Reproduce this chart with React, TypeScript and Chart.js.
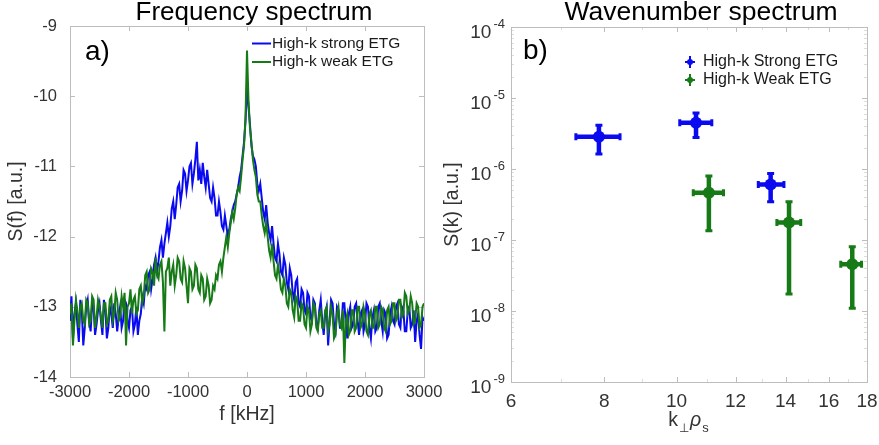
import React, { useEffect, useRef } from 'react';
import { Chart, registerables } from 'chart.js';

Chart.register(...registerables);

// ---------------- data: panel a) frequency spectrum ----------------
const FREQ_KHZ = [
  -3000, -2975, -2950, -2925, -2900, -2875, -2850, -2825, -2800, -2775,
  -2750, -2725, -2700, -2675, -2650, -2625, -2600, -2575, -2550, -2525,
  -2500, -2475, -2450, -2425, -2400, -2375, -2350, -2325, -2300, -2275,
  -2250, -2225, -2200, -2175, -2150, -2125, -2100, -2075, -2050, -2025,
  -2000, -1975, -1950, -1925, -1900, -1875, -1850, -1825, -1800, -1775,
  -1750, -1725, -1700, -1675, -1650, -1625, -1600, -1575, -1550, -1525,
  -1500, -1475, -1450, -1425, -1400, -1375, -1350, -1325, -1300, -1275,
  -1250, -1225, -1200, -1175, -1150, -1125, -1100, -1075, -1050, -1025,
  -1000, -975, -950, -925, -900, -875, -850, -825, -800, -775,
  -750, -725, -700, -675, -650, -625, -600, -575, -550, -525,
  -500, -475, -450, -425, -400, -375, -350, -325, -300, -275,
  -250, -225, -200, -175, -150, -125, -100, -75, -50, -25,
  0, 25, 50, 75, 100, 125, 150, 175, 200, 225,
  250, 275, 300, 325, 350, 375, 400, 425, 450, 475,
  500, 525, 550, 575, 600, 625, 650, 675, 700, 725,
  750, 775, 800, 825, 850, 875, 900, 925, 950, 975,
  1000, 1025, 1050, 1075, 1100, 1125, 1150, 1175, 1200, 1225,
  1250, 1275, 1300, 1325, 1350, 1375, 1400, 1425, 1450, 1475,
  1500, 1525, 1550, 1575, 1600, 1625, 1650, 1675, 1700, 1725,
  1750, 1775, 1800, 1825, 1850, 1875, 1900, 1925, 1950, 1975,
  2000, 2025, 2050, 2075, 2100, 2125, 2150, 2175, 2200, 2225,
  2250, 2275, 2300, 2325, 2350, 2375, 2400, 2425, 2450, 2475,
  2500, 2525, 2550, 2575, 2600, 2625, 2650, 2675, 2700, 2725,
  2750, 2775, 2800, 2825, 2850, 2875, 2900, 2925, 2950, 2975,
  3000,
];

const S_STRONG = [
  -13.2, -12.85, -13.45, -13.1, -12.95, -13.25, -13.5, -12.9, -13.05, -13.55,
  -13.3, -13.0, -12.9, -13.2, -13.35, -12.95, -13.0, -13.4, -13.25, -13.05,
  -12.95, -13.2, -13.4, -12.9, -13.05, -13.45, -13.3, -13.0, -13.1, -13.3,
  -12.95, -13.1, -13.35, -13.15, -13.0, -13.3, -13.2, -12.9, -12.95, -13.2,
  -13.3, -13.05, -13.0, -13.35, -13.25, -13.0, -13.4, -13.2, -13.1, -12.85,
  -12.95, -12.7, -12.75, -12.55, -12.5, -12.75, -12.6, -12.4, -12.3, -12.5,
  -12.35, -12.15, -12.05, -12.3, -12.1, -11.95, -11.8, -12.0, -11.85, -11.6,
  -11.5, -11.75, -11.55, -11.3, -11.25, -11.5, -11.35, -11.05, -11.1, -11.35,
  -11.2, -11.0, -10.95, -11.25, -11.1, -10.9, -10.65, -11.2, -11.05, -11.25,
  -10.95, -11.15, -11.3, -11.05, -11.25, -11.45, -11.5, -11.3, -11.45, -11.7,
  -11.7, -11.5, -11.65, -11.85, -11.9, -11.7, -11.85, -12.0, -11.9, -11.75,
  -11.65, -11.55, -11.5, -11.4, -11.3, -11.15, -11.05, -10.85, -10.65, -10.35,
  -9.85, -10.15, -10.4, -10.7, -10.85, -10.9, -11.0, -11.25, -11.35, -11.25,
  -11.45, -11.65, -11.75, -11.55, -11.8, -11.95, -12.05, -11.85, -12.1, -12.3,
  -12.35, -12.1, -12.25, -12.5, -12.55, -12.3, -12.4, -12.65, -12.75, -12.45,
  -12.55, -12.8, -12.9, -12.65, -12.6, -12.95, -13.0, -12.75, -12.8, -13.05,
  -13.1, -12.8, -12.85, -13.15, -13.2, -12.9, -12.95, -13.25, -13.3, -13.05,
  -12.9, -13.2, -13.4, -13.1, -13.0, -13.55, -13.2, -12.9, -12.95, -13.25,
  -13.35, -13.0, -13.05, -13.3, -13.3, -12.95, -12.95, -13.25, -13.45, -13.1,
  -13.0, -13.3, -13.25, -13.0, -12.95, -13.2, -13.4, -13.1, -13.05, -13.35,
  -13.25, -12.95, -13.0, -13.3, -13.45, -13.15, -13.05, -13.35, -13.3, -13.0,
  -12.95, -13.2, -13.35, -13.05, -13.1, -13.45, -13.4, -13.1, -13.0, -13.2,
  -13.25, -13.0, -12.95, -13.25, -13.3, -13.0, -13.05, -13.35, -13.35, -13.05,
  -13.0, -13.3, -13.25, -13.05, -13.5, -13.2, -13.1, -13.4, -13.6, -13.15,
  -13.2,
];

const S_WEAK = [
  -13.1, -12.95, -13.55, -13.2, -12.9, -13.05, -13.3, -13.0, -12.95, -13.2,
  -13.25, -12.9, -12.95, -13.25, -13.2, -12.85, -12.9, -13.3, -13.15, -12.9,
  -13.0, -13.15, -13.3, -12.95, -12.95, -13.25, -13.2, -12.9, -12.85, -13.2,
  -13.1, -12.8, -12.9, -13.2, -13.15, -12.85, -13.0, -12.8, -13.55, -13.0,
  -12.95, -12.75, -13.1, -12.9, -12.85, -13.1, -13.05, -12.75, -12.7, -12.95,
  -12.85, -12.55, -12.5, -12.8, -12.75, -12.45, -12.5, -12.7, -12.3, -12.55,
  -12.6, -12.4, -12.35, -12.65, -13.35, -12.5, -12.45, -12.3, -12.7, -12.5,
  -12.4, -12.7, -12.55, -12.3, -12.35, -12.6, -12.65, -12.35, -12.45, -12.7,
  -12.95, -12.45, -12.5, -12.75, -12.7, -12.4, -12.45, -12.75, -12.8, -12.55,
  -12.6, -12.9, -12.85, -12.6, -12.7, -12.95, -12.9, -12.7, -12.75, -12.55,
  -12.6, -12.4, -12.35, -12.5, -12.3, -12.15, -12.0, -12.15, -11.95, -11.8,
  -11.65, -11.75, -11.6, -11.4, -11.3, -11.35, -11.15, -10.9, -10.7, -10.3,
  -9.35, -10.05, -10.45, -10.65, -10.9, -11.05, -11.15, -11.4, -11.5, -11.5,
  -11.7, -11.85, -11.95, -11.8, -12.0, -12.2, -12.3, -12.1, -12.35, -12.55,
  -12.6, -12.4, -12.55, -12.75, -12.8, -12.6, -12.7, -12.95, -13.0, -12.75,
  -12.8, -13.05, -13.15, -12.85, -12.9, -13.2, -13.2, -12.95, -13.0, -13.25,
  -13.3, -13.0, -13.05, -13.35, -13.25, -12.95, -13.0, -13.3, -13.35, -13.1,
  -13.05, -13.3, -13.3, -13.05, -13.0, -13.35, -13.25, -13.0, -13.1, -13.45,
  -13.4, -13.1, -13.0, -13.25, -13.3, -13.05, -13.8, -13.2, -13.1, -13.4,
  -13.35, -13.05, -13.05, -13.35, -13.3, -13.0, -13.0, -13.3, -13.25, -13.0,
  -13.1, -13.35, -13.4, -13.1, -13.05, -13.3, -13.3, -13.0, -13.0, -13.3,
  -13.25, -13.0, -13.05, -13.3, -13.35, -13.05, -13.0, -13.25, -13.2, -12.95,
  -12.95, -13.2, -13.15, -12.9, -12.9, -13.15, -13.1, -12.8, -12.85, -13.1,
  -13.05, -12.85, -12.95, -13.25, -13.2, -12.95, -13.0, -13.3, -13.25, -13.0,
  -12.95,
];

const FREQ_X_TICKS = [-3000, -2000, -1000, 0, 1000, 2000, 3000];
const FREQ_Y_TICKS = [-14, -13, -12, -11, -10, -9];

// ---------------- data: panel b) wavenumber spectrum ----------------
const K_STRONG = [7.87, 10.62, 13.37];
const S_K_STRONG = [2.84e-6, 4.47e-6, 6.07e-7];
const K_STRONG_LO = [7.33, 10.1, 12.87];
const K_STRONG_HI = [8.4, 11.15, 13.93];
const S_K_STRONG_LO = [1.62e-6, 2.78e-6, 3.46e-7];
const S_K_STRONG_HI = [4.14e-6, 6.17e-6, 8.67e-7];

const K_WEAK = [11.05, 14.15, 17.2];
const S_K_WEAK = [4.63e-7, 1.77e-7, 4.55e-8];
const K_WEAK_LO = [10.53, 13.63, 16.6];
const K_WEAK_HI = [11.56, 14.67, 17.7];
const S_K_WEAK_LO = [1.35e-7, 1.74e-8, 1.09e-8];
const S_K_WEAK_HI = [8.0e-7, 3.46e-7, 8.05e-8];

const K_X_TICKS = [6, 8, 10, 12, 14, 16, 18];
const K_X_MINOR = [7, 9, 11, 13, 15, 17];
const K_Y_TICKS = [1e-9, 1e-8, 1e-7, 1e-6, 1e-5, 1e-4];
const K_Y_MINOR_FACTORS = [2, 3, 4, 5, 6, 7, 8, 9];

// ---------------- text ----------------
const TITLE_A = 'Frequency spectrum';
const TITLE_B = 'Wavenumber spectrum';
const LABEL_A = 'a)';
const LABEL_B = 'b)';
const LEG_STRONG_A = 'High-k strong ETG';
const LEG_WEAK_A = 'High-k weak ETG';
const LEG_STRONG_B = 'High-k Strong ETG';
const LEG_WEAK_B = 'High-k Weak ETG';

// ---------------- styles ----------------
const FONT = '"Liberation Sans", Arial, Helvetica, sans-serif';
const BLUE = '#0a0af0';
const GREEN = '#167a16';
const TICK_COLOR = '#333333';
const FRAME_COLOR = '#bdbdbd';
const MINOR_COLOR = '#dddddd';

function drawFrame(
  chart: any,
  xMajor: number[],
  yMajor: number[],
  xMinor: number[],
  yMinor: number[]
) {
  const { ctx, chartArea } = chart;
  const { left, right, top, bottom } = chartArea;
  const xs = chart.scales.x;
  const ys = chart.scales.y;
  ctx.save();
  ctx.lineWidth = 1;
  const tick = (list: number[], len: number, color: string) => {
    ctx.strokeStyle = color;
    ctx.beginPath();
    for (const v of list) {
      const px = Math.round(xs.getPixelForValue(v)) + 0.5;
      ctx.moveTo(px, bottom);
      ctx.lineTo(px, bottom - len);
      ctx.moveTo(px, top);
      ctx.lineTo(px, top + len);
    }
    ctx.stroke();
  };
  const tickY = (list: number[], len: number, color: string) => {
    ctx.strokeStyle = color;
    ctx.beginPath();
    for (const v of list) {
      const py = Math.round(ys.getPixelForValue(v)) + 0.5;
      ctx.moveTo(left, py);
      ctx.lineTo(left + len, py);
      ctx.moveTo(right, py);
      ctx.lineTo(right - len, py);
    }
    ctx.stroke();
  };
  tick(xMinor, 3, MINOR_COLOR);
  tickY(yMinor, 3, MINOR_COLOR);
  tick(xMajor, 5, FRAME_COLOR);
  tickY(yMajor, 5, FRAME_COLOR);
  ctx.strokeStyle = FRAME_COLOR;
  ctx.strokeRect(Math.round(left) + 0.5, Math.round(top) + 0.5, Math.round(right - left), Math.round(bottom - top));
  ctx.restore();
}

const leftDeco = {
  id: 'leftDeco',
  beforeDatasetsDraw(chart: any) {
    drawFrame(chart, FREQ_X_TICKS, FREQ_Y_TICKS, [], []);
  },
  afterDraw(chart: any) {
    const { ctx, chartArea } = chart;
    ctx.save();
    ctx.fillStyle = '#000';
    ctx.font = `26px ${FONT}`;
    ctx.textAlign = 'center';
    ctx.textBaseline = 'alphabetic';
    ctx.fillText(TITLE_A, (chartArea.left + chartArea.right) / 2 + 7, 20);
    ctx.font = `28px ${FONT}`;
    ctx.textAlign = 'left';
    ctx.fillText(LABEL_A, chartArea.left + 15, 60);
    // legend
    const items = [
      { label: LEG_STRONG_A, color: BLUE, y: 43.5 },
      { label: LEG_WEAK_A, color: GREEN, y: 62 },
    ];
    ctx.font = `15.5px ${FONT}`;
    ctx.textBaseline = 'middle';
    for (const it of items) {
      ctx.strokeStyle = it.color;
      ctx.lineWidth = 2;
      ctx.beginPath();
      ctx.moveTo(252, it.y);
      ctx.lineTo(271, it.y);
      ctx.stroke();
      ctx.fillStyle = '#1a1a1a';
      ctx.fillText(it.label, 272, it.y);
    }
    ctx.restore();
  },
};

function logMinor(): number[] {
  const out: number[] = [];
  for (let i = 0; i < K_Y_TICKS.length - 1; i++) {
    for (const f of K_Y_MINOR_FACTORS) out.push(K_Y_TICKS[i] * f);
  }
  return out;
}

const rightDeco = {
  id: 'rightDeco',
  beforeDatasetsDraw(chart: any) {
    drawFrame(chart, K_X_TICKS, K_Y_TICKS, K_X_MINOR, logMinor());
    const { ctx } = chart;
    const xs = chart.scales.x;
    const ys = chart.scales.y;
    ctx.save();
    chart.data.datasets.forEach((ds: any) => {
      ctx.strokeStyle = ds.backgroundColor;
      ds.data.forEach((p: any, i: number) => {
        const px = xs.getPixelForValue(p.x);
        const py = ys.getPixelForValue(p.y);
        const x0 = xs.getPixelForValue(ds.xLo[i]);
        const x1 = xs.getPixelForValue(ds.xHi[i]);
        const y0 = ys.getPixelForValue(ds.yLo[i]);
        const y1 = ys.getPixelForValue(ds.yHi[i]);
        ctx.lineWidth = 4.5;
        ctx.beginPath();
        ctx.moveTo(x0, py);
        ctx.lineTo(x1, py);
        ctx.moveTo(px, y0);
        ctx.lineTo(px, y1);
        ctx.stroke();
        ctx.lineWidth = 3;
        ctx.beginPath();
        ctx.moveTo(x0, py - 3.5);
        ctx.lineTo(x0, py + 3.5);
        ctx.moveTo(x1, py - 3.5);
        ctx.lineTo(x1, py + 3.5);
        ctx.moveTo(px - 3.5, y0);
        ctx.lineTo(px + 3.5, y0);
        ctx.moveTo(px - 3.5, y1);
        ctx.lineTo(px + 3.5, y1);
        ctx.stroke();
      });
    });
    ctx.restore();
  },
  afterDraw(chart: any) {
    const { ctx, chartArea } = chart;
    const ys = chart.scales.y;
    ctx.save();
    // title & panel label
    ctx.fillStyle = '#000';
    ctx.font = `26.5px ${FONT}`;
    ctx.textAlign = 'center';
    ctx.textBaseline = 'alphabetic';
    ctx.fillText(TITLE_B, (chartArea.left + chartArea.right) / 2 + 12, 20);
    ctx.font = `28px ${FONT}`;
    ctx.textAlign = 'left';
    ctx.fillText(LABEL_B, chartArea.left + 12, 59);
    // y tick labels with superscript exponents
    ctx.fillStyle = TICK_COLOR;
    const xEnd = chartArea.left - 6;
    for (const v of K_Y_TICKS) {
      const py = ys.getPixelForValue(v);
      const sup = String(Math.round(Math.log10(v)));
      ctx.font = `13px ${FONT}`;
      const sw = ctx.measureText(sup).width;
      ctx.textAlign = 'left';
      ctx.textBaseline = 'middle';
      ctx.fillText(sup, xEnd - sw, py - 3);
      ctx.font = `19px ${FONT}`;
      ctx.textAlign = 'right';
      ctx.fillText('10', xEnd - sw - 2, py + 6);
    }
    // x axis title k_perp rho_s
    const parts = [
      { t: 'k', f: `19.5px ${FONT}`, dy: 0 },
      { t: '\u22a5', f: `12px ${FONT}`, dy: 6 },
      { t: '\u03c1', f: `italic 19.5px ${FONT}`, dy: 0 },
      { t: 's', f: `13px ${FONT}`, dy: 6 },
    ];
    let total = 0;
    const widths: number[] = [];
    for (const p of parts) {
      ctx.font = p.f;
      const w = ctx.measureText(p.t).width + 1;
      widths.push(w);
      total += w;
    }
    let x = (chartArea.left + chartArea.right) / 2 - total / 2;
    ctx.textAlign = 'left';
    ctx.textBaseline = 'alphabetic';
    parts.forEach((p, i) => {
      ctx.font = p.f;
      ctx.fillText(p.t, x, 426 + p.dy);
      x += widths[i];
    });
    // legend
    const items = [
      { label: LEG_STRONG_B, color: BLUE, y: 62 },
      { label: LEG_WEAK_B, color: GREEN, y: 80 },
    ];
    for (const it of items) {
      const cx = 690;
      ctx.strokeStyle = it.color;
      ctx.fillStyle = it.color;
      ctx.lineWidth = 2;
      ctx.beginPath();
      ctx.moveTo(cx, it.y - 6);
      ctx.lineTo(cx, it.y + 6);
      ctx.moveTo(cx - 5, it.y);
      ctx.lineTo(cx + 5, it.y);
      ctx.stroke();
      ctx.beginPath();
      ctx.arc(cx, it.y, 3, 0, Math.PI * 2);
      ctx.fill();
      ctx.fillStyle = '#1a1a1a';
      ctx.font = `16px ${FONT}`;
      ctx.textBaseline = 'middle';
      ctx.fillText(it.label, 703, it.y);
    }
    ctx.restore();
  },
};

function leftConfig(): any {
  return {
    type: 'line',
    data: {
      datasets: [
        {
          label: LEG_STRONG_A,
          data: FREQ_KHZ.map((f, i) => ({ x: f, y: S_STRONG[i] })),
          borderColor: BLUE,
          backgroundColor: BLUE,
          borderWidth: 2,
          pointRadius: 0,
          tension: 0,
          order: 1,
        },
        {
          label: LEG_WEAK_A,
          data: FREQ_KHZ.map((f, i) => ({ x: f, y: S_WEAK[i] })),
          borderColor: GREEN,
          backgroundColor: GREEN,
          borderWidth: 2,
          pointRadius: 0,
          tension: 0,
          order: 0,
        },
      ],
    },
    options: {
      responsive: false,
      animation: false,
      devicePixelRatio: 1,
      events: [],
      layout: { padding: { left: 0, right: 455, top: 26, bottom: 0 } },
      plugins: { legend: { display: false }, tooltip: { enabled: false }, title: { display: false } },
      scales: {
        x: {
          type: 'linear',
          min: -3000,
          max: 3000,
          afterBuildTicks: (s: any) => {
            s.ticks = FREQ_X_TICKS.map((v) => ({ value: v }));
          },
          afterFit: (s: any) => {
            s.height = 68;
            s.paddingLeft = 0;
            s.paddingRight = 0;
          },
          grid: { display: false, drawTicks: false },
          border: { display: false },
          ticks: {
            color: TICK_COLOR,
            font: { family: FONT, size: 16.5 },
            padding: 5.5,
            maxRotation: 0,
            autoSkip: false,
            callback: (v: any) => String(v),
          },
          title: {
            display: true,
            text: 'f [kHz]',
            color: TICK_COLOR,
            font: { family: FONT, size: 19.5 },
            padding: { top: 0, bottom: 18.3 },
          },
        },
        y: {
          type: 'linear',
          min: -14,
          max: -9,
          afterBuildTicks: (s: any) => {
            s.ticks = FREQ_Y_TICKS.map((v) => ({ value: v }));
          },
          afterFit: (s: any) => {
            s.width = 70;
            s.paddingTop = 0;
            s.paddingBottom = 0;
          },
          grid: { display: false, drawTicks: false },
          border: { display: false },
          ticks: {
            color: TICK_COLOR,
            font: { family: FONT, size: 16.5 },
            padding: 13,
            autoSkip: false,
            callback: (v: any) => String(v),
          },
          title: {
            display: true,
            text: 'S(f) [a.u.]',
            color: TICK_COLOR,
            font: { family: FONT, size: 19.5 },
            padding: { top: 5.3, bottom: 0 },
          },
        },
      },
    },
    plugins: [leftDeco],
  };
}

function rightConfig(): any {
  return {
    type: 'scatter',
    data: {
      datasets: [
        {
          label: LEG_STRONG_B,
          data: K_STRONG.map((k, i) => ({ x: k, y: S_K_STRONG[i] })),
          xLo: K_STRONG_LO,
          xHi: K_STRONG_HI,
          yLo: S_K_STRONG_LO,
          yHi: S_K_STRONG_HI,
          backgroundColor: BLUE,
          borderWidth: 0,
          pointRadius: 6,
        },
        {
          label: LEG_WEAK_B,
          data: K_WEAK.map((k, i) => ({ x: k, y: S_K_WEAK[i] })),
          xLo: K_WEAK_LO,
          xHi: K_WEAK_HI,
          yLo: S_K_WEAK_LO,
          yHi: S_K_WEAK_HI,
          backgroundColor: GREEN,
          borderWidth: 0,
          pointRadius: 6,
        },
      ],
    },
    options: {
      responsive: false,
      animation: false,
      devicePixelRatio: 1,
      events: [],
      layout: { padding: { left: 440, right: 12, top: 27, bottom: 0 } },
      plugins: { legend: { display: false }, tooltip: { enabled: false }, title: { display: false } },
      scales: {
        x: {
          type: 'logarithmic',
          min: 6,
          max: 18,
          afterBuildTicks: (s: any) => {
            s.ticks = K_X_TICKS.map((v) => ({ value: v }));
          },
          afterFit: (s: any) => {
            s.height = 63;
            s.paddingLeft = 0;
            s.paddingRight = 0;
          },
          grid: { display: false, drawTicks: false },
          border: { display: false },
          ticks: {
            color: TICK_COLOR,
            font: { family: FONT, size: 19 },
            padding: 8,
            maxRotation: 0,
            autoSkip: false,
            callback: (v: any) => String(v),
          },
        },
        y: {
          type: 'logarithmic',
          min: 1e-9,
          max: 1e-4,
          afterBuildTicks: (s: any) => {
            s.ticks = K_Y_TICKS.map((v) => ({ value: v }));
          },
          afterFit: (s: any) => {
            s.width = 71;
            s.paddingTop = 0;
            s.paddingBottom = 0;
          },
          grid: { display: false, drawTicks: false },
          border: { display: false },
          ticks: { display: false },
          title: {
            display: true,
            text: 'S(k) [a.u.]',
            color: TICK_COLOR,
            font: { family: FONT, size: 19.5 },
            padding: { top: 1.3, bottom: 0 },
          },
        },
      },
    },
    plugins: [rightDeco],
  };
}

export default function App() {
  const leftRef = useRef<HTMLCanvasElement>(null);
  const rightRef = useRef<HTMLCanvasElement>(null);
  useEffect(() => {
    const c1 = new Chart(leftRef.current as HTMLCanvasElement, leftConfig());
    const c2 = new Chart(rightRef.current as HTMLCanvasElement, rightConfig());
    return () => {
      c1.destroy();
      c2.destroy();
    };
  }, []);
  const cs: React.CSSProperties = { position: 'absolute', left: 0, top: 0, width: 879, height: 445 };
  return (
    <div style={{ position: 'absolute', left: 0, top: 0, width: 879, height: 445, background: '#fff', overflow: 'hidden' }}>
      <canvas ref={leftRef} width={879} height={445} style={cs} />
      <canvas ref={rightRef} width={879} height={445} style={cs} />
    </div>
  );
}
